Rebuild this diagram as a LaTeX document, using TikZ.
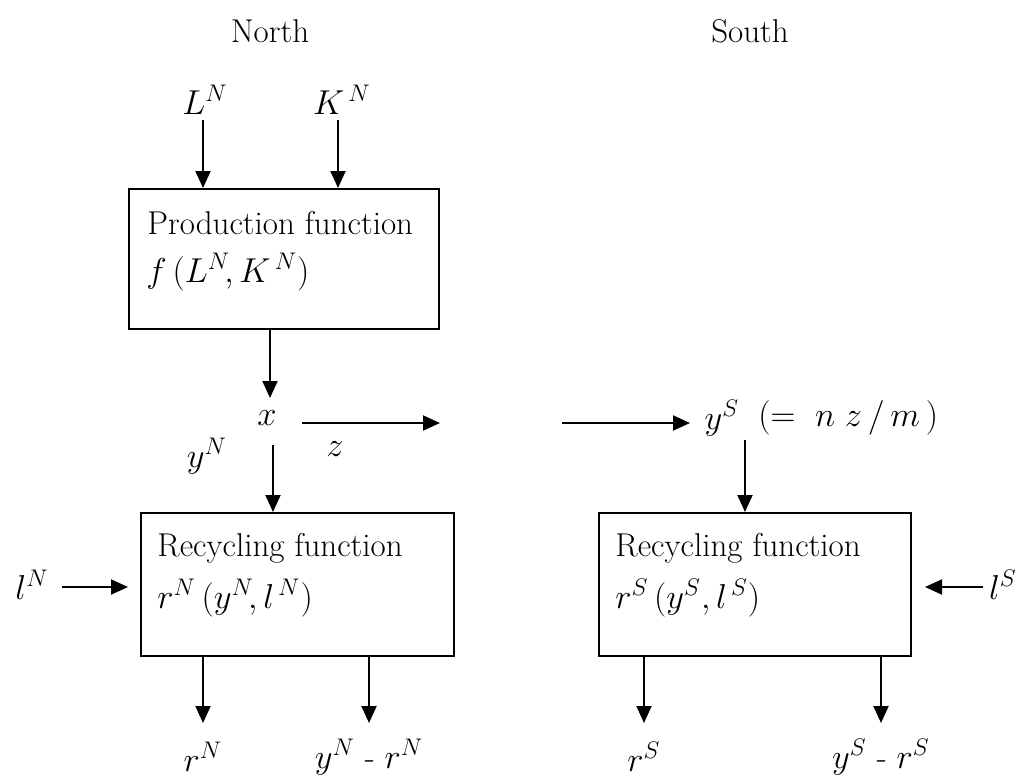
\documentclass[tikz,border=0pt]{standalone}
\usetikzlibrary{arrows.meta}
\begin{document}
\begin{tikzpicture}[x=0.5pt,y=-0.5pt,
  every node/.style={font=\fontsize{16.5}{19}\selectfont, inner sep=0pt},
  arr/.style={line width=1pt,-{Triangle[length=8.5pt,width=7.5pt]}},
  fbox/.style={draw, line width=0.9pt, minimum width=#1, minimum height=71.5pt, anchor=north west},
  txt/.style={anchor=west}]
\useasboundingbox (0,0) rectangle (1025,778);
% titles
\node (north) at (270,31) {North};
\node (south) at (750,31) {South};
% inputs
\node (LN) at (205,100) {$L^N$};
\node (KN) at (342,100) {$K^{\,N}$};
% production box
\node[fbox=155pt, minimum height=70pt] (prod) at (128,188) {};
\node[txt] (prodt) at (147,223) {Production function};
\node[txt] (prodf) at (146,272) {$f\,(L^N\!, K^{\,N})$};
\coordinate (LNs) at (203,120);
\coordinate (KNs) at (338,120);
\draw[arr] (LNs) -- (LNs |- prod.north);
\draw[arr] (KNs) -- (KNs |- prod.north);
% x and flows
\node (x) at (267,418) {$x$};
\coordinate (pout) at (270,328);
\coordinate (pin) at (270,398);
\draw[arr] (pout) -- (pin);
\coordinate (z1) at (302,423);
\coordinate (z2) at (440,423);
\coordinate (z3) at (562,423);
\coordinate (z4) at (690,423);
\draw[arr] (z1) -- (z2);
\draw[arr] (z3) -- (z4);
\node (z) at (335,449) {$z$};
\node (yS) at (722,418) {$y^S$};
\node[anchor=west] (ySeq) at (758,418) {$(=\ n\;z\,/\,m\,)$};
\node (yN) at (207,456) {$y^N$};
% recycling boxes
\node[fbox=156.5pt] (recN) at (140,512) {};
\node[fbox=156pt] (recS) at (598,512) {};
\node[txt] (recNt) at (157,548) {Recycling function};
\node[txt] (recNf) at (157,598) {$r^N\,(y^N\!, l^{\,N})$};
\node[txt] (recSt) at (615,548) {Recycling function};
\node[txt] (recSf) at (615,598) {$r^S\,(y^S, l^{\,S})$};
\coordinate (yNs) at (273,445);
\coordinate (ySs) at (745,440);
\draw[arr] (yNs) -- (yNs |- recN.north);
\draw[arr] (ySs) -- (ySs |- recS.north);
% labour inputs
\node (lN) at (32,585) {$l^N$};
\node (lS) at (1003,585) {$l^S$};
\coordinate (lNs) at (62,587);
\coordinate (lNe) at (128,587);
\coordinate (lSs) at (983,587);
\coordinate (lSe) at (925,587);
\draw[arr] (lNs) -- (lNe);
\draw[arr] (lSs) -- (lSe);
% outputs
\node (rN) at (203,757) {$r^N$};
\node (yrN) at (369,757) {$y^N$ - $r^N$};
\node (rS) at (644,757) {$r^S$};
\node (yrS) at (881,757) {$y^S$ - $r^S$};
\coordinate (o1) at (203,723);
\coordinate (o2) at (369,723);
\coordinate (o3) at (644,723);
\coordinate (o4) at (881,723);
\draw[arr] (o1 |- recN.south) -- (o1);
\draw[arr] (o2 |- recN.south) -- (o2);
\draw[arr] (o3 |- recS.south) -- (o3);
\draw[arr] (o4 |- recS.south) -- (o4);
\end{tikzpicture}
\end{document}
